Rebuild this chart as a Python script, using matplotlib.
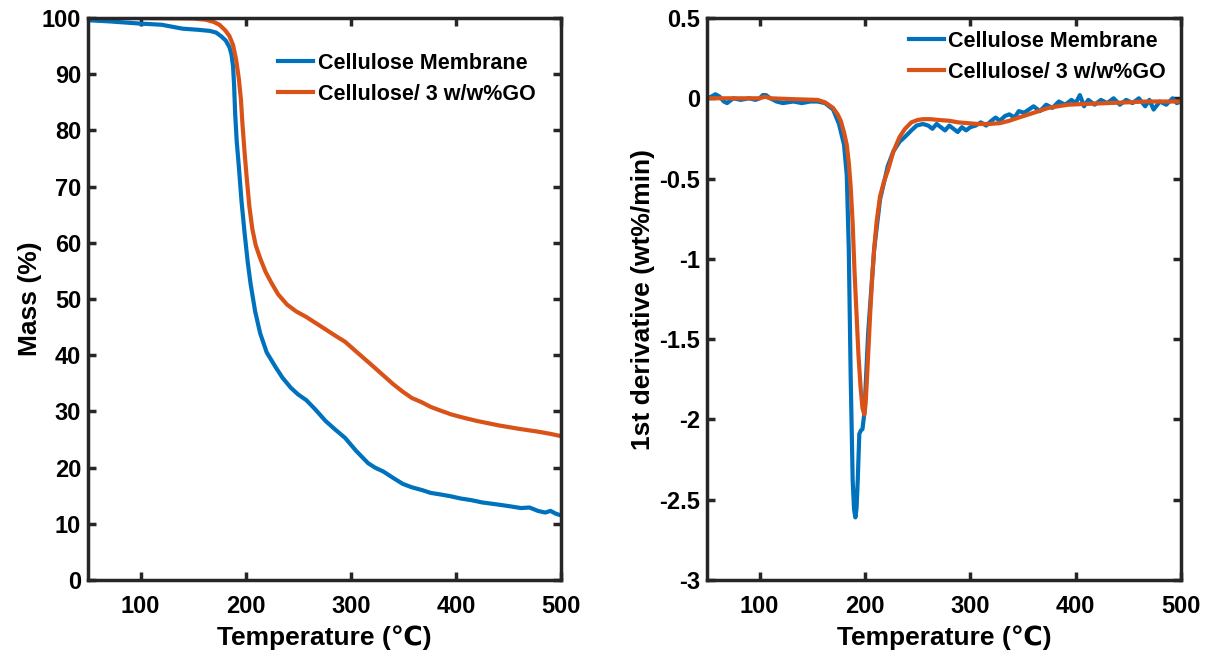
import matplotlib
matplotlib.use("Agg")
import matplotlib.pyplot as plt

plt.rcParams['font.family'] = ['Liberation Sans', 'DejaVu Sans']
plt.rcParams['font.weight'] = 'bold'

# ---- Data: TGA (left) ----
tga_temp_blue = [50, 70, 100, 120, 140, 155, 166, 172, 177, 181, 184.6, 186.5, 188, 189, 190, 191.5, 193.5, 196, 199, 202, 204.6, 209,
                 213.8, 220, 228.4, 235, 243, 250, 257.7, 266, 276, 285, 294.5, 305, 316.4, 323, 331, 340, 349.5, 358, 367.8, 376,
                 386, 395, 404.6, 415, 425, 441, 452, 462, 470, 478, 485, 490, 495, 500]
tga_mass_blue = [99.6, 99.4, 99.0, 98.8, 98.1, 97.9, 97.7, 97.4, 96.7, 96.0, 94.8, 93.5, 91.4, 88.0, 83.0, 78.0, 73.6, 67.5, 61.7, 56.5, 52.8, 47.8,
                 43.9, 40.5, 37.9, 36.0, 34.2, 33.0, 32.0, 30.4, 28.3, 26.8, 25.3, 23.0, 20.8, 20.0, 19.3, 18.2, 17.1, 16.5, 16.0, 15.5,
                 15.2, 14.9, 14.5, 14.2, 13.8, 13.4, 13.1, 12.8, 12.9, 12.3, 12.0, 12.3, 11.8, 11.5]

tga_temp_orange = [50, 100, 150, 162, 169.6, 175, 180.6, 184.5, 188, 191, 193.5, 195.5, 197, 199, 200.8, 203.5, 206.3, 209.5, 213.7, 219,
                   224.7, 231, 239.4, 248, 257.7, 266, 276, 285, 294.5, 303, 312.8, 322, 331, 340, 349.5, 358, 367.8, 376, 386, 395,
                   404.6, 420, 441, 460, 478, 490, 500]
tga_mass_orange = [100, 100, 99.9, 99.7, 99.3, 98.8, 97.8, 96.8, 95.2, 92.5, 89.2, 85.5, 81.0, 76.0, 72.0, 66.5, 62.5, 59.6, 57.3, 54.8,
                   52.8, 50.8, 49.0, 47.8, 46.8, 45.8, 44.6, 43.5, 42.4, 41.0, 39.4, 37.9, 36.4, 34.9, 33.5, 32.4, 31.6, 30.8, 30.1, 29.5,
                   29.0, 28.3, 27.5, 26.9, 26.4, 26.0, 25.6]

# ---- Data: DTG (right) ----
dtg_temp_blue = [50, 54, 58, 62, 66, 69, 75, 82, 90, 96, 100, 103, 106, 110, 116, 122, 132, 140, 148, 155, 162, 169.7, 175.3, 180.1,
                 182.7, 184.6, 186.4, 188.3, 189.6, 190.9, 192.0, 193.1, 194.6, 196.0, 197.6, 199.4, 203, 208.7, 214.3, 221.7,
                 227, 232.9, 238, 244, 249, 255, 260, 264, 268, 272, 276, 280, 284, 288, 292, 296, 300, 305, 310, 315, 320, 324,
                 328, 333, 337, 342, 346, 351, 355.6, 360, 366, 372, 378, 384, 390, 396, 400, 404, 408, 412, 418, 424, 430, 436,
                 442, 448, 454, 460, 466, 470, 474, 480, 486, 492, 496, 500]
dtg_val_blue = [0.0, 0.01, 0.025, 0.01, -0.02, -0.03, 0.0, -0.01, 0.0, -0.01, 0.0, 0.02, 0.02, 0.0, -0.02, -0.03, -0.02, -0.03, -0.02,
                -0.02, -0.03, -0.07, -0.16, -0.29, -0.48, -0.94, -1.73, -2.38, -2.56, -2.61, -2.55, -2.38, -2.09, -2.07, -2.06,
                -1.96, -1.46, -0.94, -0.63, -0.42, -0.33, -0.27, -0.24, -0.20, -0.17, -0.16, -0.17, -0.19, -0.16, -0.18, -0.20,
                -0.17, -0.19, -0.21, -0.18, -0.20, -0.18, -0.17, -0.15, -0.17, -0.14, -0.12, -0.14, -0.11, -0.10, -0.12, -0.08,
                -0.09, -0.07, -0.05, -0.08, -0.04, -0.06, -0.02, -0.04, -0.01, -0.03, 0.02, -0.05, -0.01, -0.04, -0.01, -0.03,
                0.0, -0.04, -0.01, -0.03, 0.0, -0.05, -0.01, -0.07, -0.02, -0.04, 0.0, -0.03, -0.02]

dtg_temp_orange = [50, 80, 100, 105, 110, 130, 155, 162, 169.7, 174, 177, 180, 182.7, 184.6, 186.4, 188.3, 190, 192, 193.8, 195.8,
                   197.6, 199.4, 200.6, 202, 203.5, 205, 206.8, 208.7, 211, 214.3, 218, 221.7, 227, 232.9, 238, 244, 250, 255,
                   262, 270, 280, 288.6, 298, 307, 318, 328, 337, 346, 355.6, 365, 374, 383, 392.8, 410, 430, 450, 467, 485, 500]
dtg_val_orange = [0.0, 0.0, 0.0, 0.01, 0.0, -0.005, -0.01, -0.025, -0.06, -0.10, -0.14, -0.21, -0.29, -0.40, -0.55, -0.78, -1.07,
                  -1.35, -1.60, -1.80, -1.93, -1.97, -1.90, -1.73, -1.53, -1.33, -1.12, -0.94, -0.77, -0.61, -0.52, -0.45, -0.33,
                  -0.24, -0.19, -0.15, -0.135, -0.13, -0.13, -0.135, -0.14, -0.15, -0.155, -0.16, -0.16, -0.155, -0.14, -0.12,
                  -0.10, -0.08, -0.06, -0.05, -0.04, -0.035, -0.03, -0.025, -0.02, -0.02, -0.02]

labels = ['Cellulose Membrane', 'Cellulose/ 3 w/w%GO']
x_ticks = [100, 200, 300, 400, 500]
left_yticks = [0, 10, 20, 30, 40, 50, 60, 70, 80, 90, 100]
right_yticks = [-3, -2.5, -2, -1.5, -1, -0.5, 0, 0.5]
right_yticklabels = ['-3', '-2.5', '-2', '-1.5', '-1', '-0.5', '0', '0.5']

BLUE = '#0072BD'
ORANGE = '#D95319'
SPINE = '#262626'

fig = plt.figure(figsize=(12.11, 6.54), dpi=100)
axL = fig.add_axes([88/1211, 1-580/654, (561-88)/1211, (580-18)/654])
axR = fig.add_axes([707/1211, 1-580/654, (1181-707)/1211, (580-18)/654])

lw = 3.0
axL.plot(tga_temp_blue, tga_mass_blue, color=BLUE, lw=lw, label=labels[0])
axL.plot(tga_temp_orange, tga_mass_orange, color=ORANGE, lw=lw, label=labels[1])
axR.plot(dtg_temp_blue, dtg_val_blue, color=BLUE, lw=lw, label=labels[0])
axR.plot(dtg_temp_orange, dtg_val_orange, color=ORANGE, lw=lw, label=labels[1])

for ax in (axL, axR):
    ax.set_xlim(50, 500)
    ax.set_xticks(x_ticks)
    for s in ax.spines.values():
        s.set_linewidth(2.5)
        s.set_color(SPINE)
    ax.tick_params(direction='in', length=6, width=2.5, color=SPINE, top=True, right=True,
                   labelsize=17, pad=5)
    ax.tick_params(axis='x', pad=11)
    for t in ax.get_xticklabels() + ax.get_yticklabels():
        t.set_fontweight('bold')
    ax.set_xlabel('Temperature (℃)', fontsize=19, fontweight='bold', labelpad=5)

axL.set_ylim(0, 100)
axL.set_yticks(left_yticks)
axL.set_ylabel('Mass (%)', fontsize=19, fontweight='bold', labelpad=0)

axR.set_ylim(-3, 0.5)
axR.set_yticks(right_yticks)
axR.set_yticklabels(right_yticklabels, fontweight='bold')
axR.set_ylabel('1st derivative (wt%/min)', fontsize=19, fontweight='bold', labelpad=3)

leg_kw = dict(frameon=False, loc='upper left', borderpad=0, borderaxespad=0, handlelength=1.63,
              handletextpad=0.2, labelspacing=0.45, prop={'weight': 'bold', 'size': 15.5})
axL.legend(bbox_to_anchor=(0.402, 0.938), **leg_kw)
axR.legend(bbox_to_anchor=(0.426, 0.977), **leg_kw)

fig.savefig('out.png', dpi=100)
